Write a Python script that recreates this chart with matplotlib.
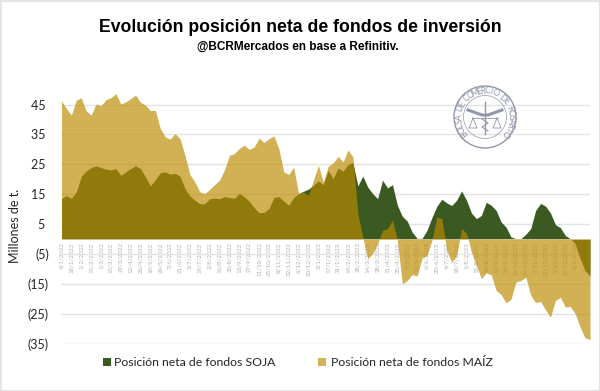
import numpy as np
import pandas as pd
import matplotlib
matplotlib.use("Agg")
import matplotlib.pyplot as plt
from matplotlib.patches import Circle, Rectangle

# posicion neta, millones de t, un dato por semana
soja = [13.6, 14.5, 13.6, 15.8, 21.0, 22.8, 23.9, 24.5, 23.9, 23.4, 23.1, 23.6,
        21.3, 22.5, 23.6, 24.5, 23.6, 20.8, 17.8, 19.9, 22.2, 22.5, 21.7, 22.0,
        21.0, 16.9, 14.4, 13.0, 11.8, 11.8, 13.5, 13.7, 13.5, 14.2, 13.9, 13.6,
        15.3, 14.1, 12.7, 10.5, 8.8, 8.9, 10.2, 13.9, 14.2, 12.7, 11.3, 13.9,
        15.2, 16.0, 16.7, 18.0, 19.5, 18.2, 23.0, 20.2, 23.8, 22.7, 25.0, 25.6,
        17.8, 21.1, 17.4, 15.2, 13.5, 19.7, 17.1, 18.2, 11.3, 7.6, 6.0, 2.3,
        0.2, 0.2, 2.9, 7.2, 11.0, 13.3, 12.1, 11.2, 13.0, 16.1, 13.0, 8.7,
        6.8, 7.9, 12.3, 11.3, 9.6, 5.7, 4.0, 0.7, 0.1, 0.1, 1.6, 3.5,
        9.6, 11.9, 11.0, 8.7, 4.8, 3.8, 1.2, 0.1, -1.6, -6.6, -10.5, -12.4]
maiz = [46.2, 43.7, 41.5, 46.5, 47.3, 42.9, 41.5, 45.2, 44.6, 46.7, 47.3, 48.7,
        45.2, 45.9, 47.0, 48.2, 45.8, 44.8, 43.0, 43.1, 37.0, 34.2, 33.5, 35.3,
        33.6, 28.0, 21.6, 19.1, 15.8, 15.2, 16.6, 18.2, 19.7, 23.2, 28.0, 28.6,
        30.3, 31.4, 30.0, 30.8, 33.8, 32.3, 33.6, 34.5, 30.3, 22.5, 21.6, 24.1,
        15.2, 15.7, 14.7, 19.7, 24.7, 19.1, 24.4, 25.5, 27.7, 25.8, 29.8, 27.5,
        8.5, 0.7, -6.6, -4.9, -1.6, 2.9, 3.5, 6.3, -0.4, -15.0, -13.9, -11.9,
        -12.4, -6.4, -5.5, -0.4, 7.4, 6.8, -3.8, -7.8, -5.5, 3.4, 2.0, -4.4,
        -8.8, -13.3, -11.3, -12.0, -17.2, -18.6, -21.4, -20.2, -14.4, -13.9, -12.8, -18.9,
        -21.3, -20.9, -23.7, -26.2, -20.6, -19.5, -22.8, -22.6, -25.0, -29.5, -33.1, -33.7]
y_ticks = [45, 35, 25, 15, 5, -5, -15, -25, -35]

W, H = 600, 391
fechas = pd.date_range("2022-01-04", periods=len(soja), freq="7D")
x_ticks = fechas[::2]
x_labels = [f"{d.day}/{d.month}/{d.year}" for d in x_ticks]

plt.rcParams["font.family"] = ["Lato", "DejaVu Sans"]

fig = plt.figure(figsize=(W / 100, H / 100), dpi=100)
left, right, top, bottom = 61.5, 590, 89.7, 343.5
ax = fig.add_axes([left / W, 1 - bottom / H, (right - left) / W, (bottom - top) / H])

ax.fill_between(fechas, 0, soja, color="#3A5A22", lw=0, zorder=2)
ax.fill_between(fechas, 0, maiz, color="#BC8B00", alpha=0.67, lw=0, zorder=3)

ax.set_xlim(fechas[0], fechas[-1])
ax.set_ylim(-35, 50)
ax.set_yticks(y_ticks)
ax.set_yticklabels([f"{v} " if v > 0 else f"({-v})" for v in y_ticks], fontsize=9, color="#262626")
ax.set_xticks(x_ticks)
ax.set_xticklabels(x_labels)
ax.tick_params(axis="both", length=0)
ax.tick_params(axis="y", pad=9)
ax.tick_params(axis="x", pad=2.5, labelrotation=90, labelsize=4.4, labelcolor="#b0b0b0")
ax.spines["bottom"].set_position(("data", 0))
ax.spines["bottom"].set_color("#d9d9d9")
ax.spines["bottom"].set_linewidth(0.7)
for s in ["top", "left", "right"]:
    ax.spines[s].set_visible(False)
ax.grid(axis="y", color="#e3e3e3", lw=1)
ax.set_axisbelow(True)
for lab in ax.get_xticklabels():
    lab.set_zorder(6)

# overlay in pixels for everything outside the axes
ov = fig.add_axes([0, 0, 1, 1], facecolor="none")
ov.set_xlim(0, W)
ov.set_ylim(H, 0)
ov.axis("off")

ov.add_patch(Rectangle((0.5, 0.5), W - 1, H - 1, fill=False, ec="#e4e4e4", lw=1.5))

ov.text(300.5, 28, "Evolución posición neta de fondos de inversión", ha="center", va="center",
        fontsize=12.7, fontweight="bold", color="black", family="Liberation Sans")
ov.text(298, 47, "@BCRMercados en base a Refinitiv.", ha="center", va="center",
        fontsize=8.5, fontweight="bold", color="black", family="Liberation Sans")
ov.text(15, 226, "Millones de t.", rotation=90, ha="center", va="center", fontsize=9, color="#262626")

# leyenda
ov.add_patch(Rectangle((103, 358), 8, 8, color="#3A5A22", lw=0))
ov.text(114, 362.5, "Posición neta de fondos SOJA", va="center", fontsize=8.8, color="#262626")
ov.add_patch(Rectangle((318, 358), 8, 8, color="#D3B355", lw=0))
ov.text(331, 362.5, "Posición neta de fondos MAÍZ", va="center", fontsize=8.8, color="#262626")

# sello
sello = "#9297AC"
cx, cy = 485, 117
ov.add_patch(Circle((cx, cy), 31, fill=False, ec=sello, lw=1.0))
ov.add_patch(Circle((cx, cy), 21.5, fill=False, ec=sello, lw=0.5))
txt = "BOLSA DE COMERCIO DE ROSARIO"
angs = np.linspace(-128, 128, len(txt))
for ch, a in zip(txt, angs):
    r = np.deg2rad(a)
    ov.text(cx + 26 * np.sin(r), cy - 26 * np.cos(r), ch, rotation=-a, rotation_mode="anchor",
            ha="center", va="center", fontsize=6.2, color=sello)
# alas, baston y balanzas
ov.plot([cx - 17, cx - 3, cx + 3, cx + 17], [cy - 7, cy - 2, cy - 2, cy - 7], color=sello, lw=2.2)
ov.plot([cx, cx], [cy - 15, cy + 17], color=sello, lw=1)
ov.plot([cx - 13, cx + 13], [cy + 1, cy + 1], color=sello, lw=0.6)
for dx in (-12, 12):
    ov.plot([cx + dx, cx + dx - 4, cx + dx + 4, cx + dx], [cy + 1, cy + 11, cy + 11, cy + 1], color=sello, lw=0.6)
ov.plot([cx - 3, cx + 3, cx - 3, cx + 3], [cy + 2, cy + 6, cy + 10, cy + 14], color=sello, lw=0.8)

fig.savefig("out.png", dpi=100, facecolor="white")
